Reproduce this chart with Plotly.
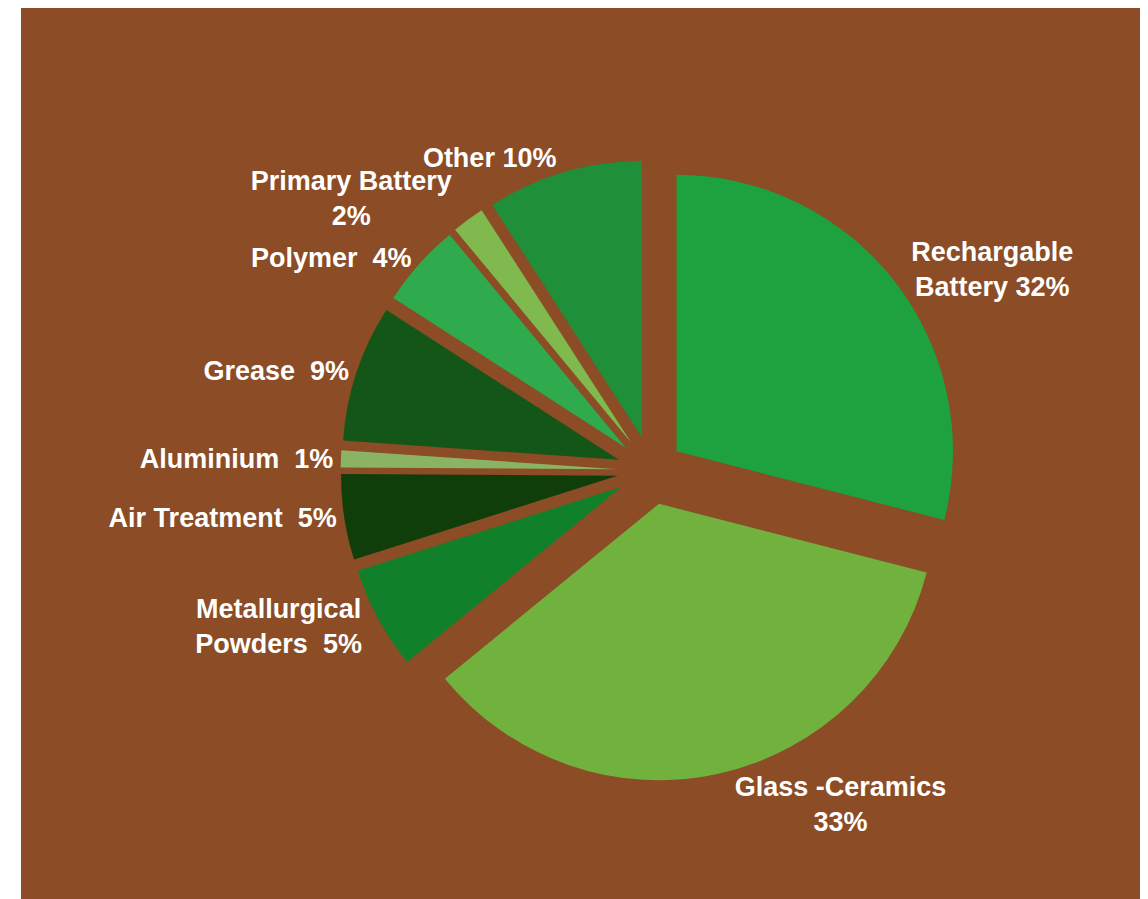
import plotly.graph_objects as go

# Slice shares as drawn in the reference (measured from slice angles)
categories = ["Rechargable Battery", "Glass-Ceramics", "Metallurgical Powders",
              "Air Treatment", "Aluminium", "Grease", "Polymer",
              "Primary Battery", "Other"]
shares = [29.0, 35.1, 6.0, 5.0, 1.0, 8.0, 4.9, 1.9, 9.1]
# Label texts as printed on the reference
label_texts = ["Rechargable<br>Battery 32%", "Glass -Ceramics<br>33%",
               "Metallurgical<br>Powders  5%", "Air Treatment  5%",
               "Aluminium  1%", "Grease  9%", "Polymer  4%",
               "Primary Battery<br>2%", "Other 10%"]
colors = ["#1EA13F", "#71B13D", "#10812A", "#103E0B", "#8AB464",
          "#145518", "#2FAA4C", "#80BA4F", "#1F8F3A"]

# labels drawn by a second, transparent copy of the pie (avoids leader lines)
second_layer = ["Grease", "Primary Battery"]

W, H = 1140, 891
pulls = [0.114, 0.123, 0.125, 0.125, 0.125, 0.125, 0.125, 0.125, 0.125]
font = dict(family="Liberation Sans, Arial, sans-serif", size=27,
            color="white", weight="bold")
domain = dict(x=[0.2918, 0.8374], y=[0.1318, 0.8299])

text_a = [t if c not in second_layer else "" for c, t in zip(categories, label_texts)]
text_b = [t if c in second_layer else "" for c, t in zip(categories, label_texts)]

fig = go.Figure()
fig.add_trace(go.Pie(
    labels=categories, values=shares, text=text_a,
    textinfo="text", textposition="outside",
    sort=False, direction="clockwise", rotation=0, pull=pulls,
    marker=dict(colors=colors, line=dict(width=0)),
    textfont=font, domain=domain, showlegend=False, automargin=False,
    hoverinfo="label+percent",
))
fig.add_trace(go.Pie(
    labels=categories, values=shares, text=text_b,
    textinfo="text", textposition="outside",
    sort=False, direction="clockwise", rotation=0, pull=pulls,
    marker=dict(colors=["rgba(0,0,0,0)"] * len(categories), line=dict(width=0)),
    textfont=font, domain=domain, showlegend=False, automargin=False,
    hoverinfo="skip",
))

fig.update_layout(
    width=W, height=H, autosize=False, showlegend=False,
    margin=dict(l=0, r=0, t=0, b=0, pad=0, autoexpand=False),
    paper_bgcolor="#8B4C26",
    shapes=[
        dict(type="rect", xref="paper", yref="paper", x0=0, x1=13 / W,
             y0=0, y1=1, fillcolor="white", line=dict(width=0), layer="below"),
        dict(type="rect", xref="paper", yref="paper", x0=1137 / W, x1=1,
             y0=0, y1=1, fillcolor="white", line=dict(width=0), layer="below"),
    ],
)

fig.write_html("out.html")
